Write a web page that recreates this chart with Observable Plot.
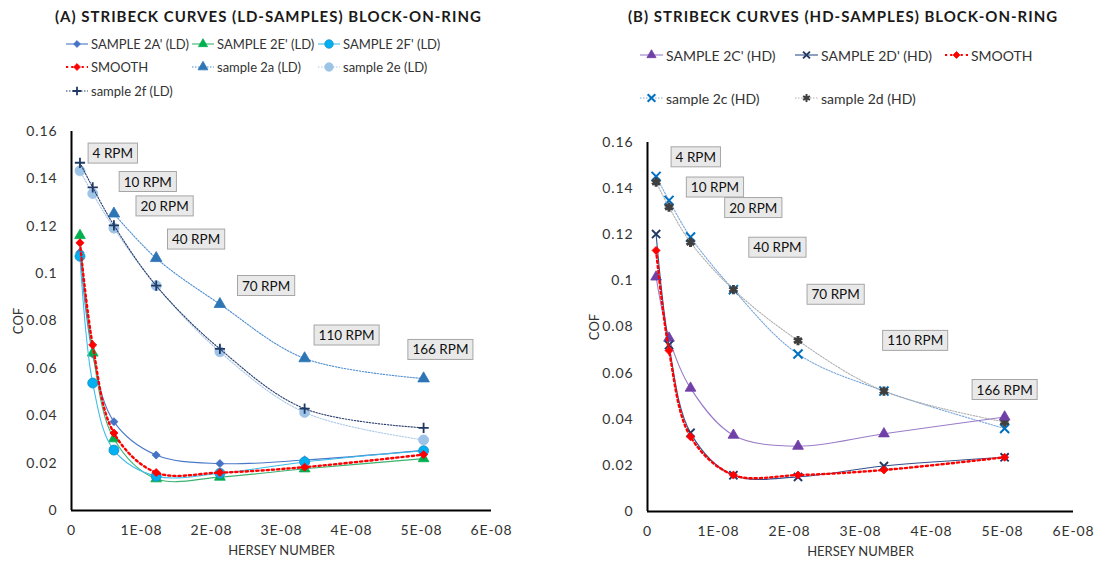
<!DOCTYPE html>
<html>
<head>
<meta charset="utf-8">
<script src="https://cdn.jsdelivr.net/npm/d3@7"></script>
<script src="https://cdn.jsdelivr.net/npm/@observablehq/plot@0.6"></script>
<style>
  html, body { margin: 0; padding: 0; background: #fff; }
  #root { position: relative; width: 1097px; height: 568px; font-family: Lato, "Open Sans", sans-serif; color: #222; overflow: hidden; }
  .title { position: absolute; font-weight: 700; font-size: 15px; letter-spacing: 1px; white-space: nowrap; color: #1a1a1a; }
  .legend { position: absolute; display: grid; font-size: 13px; color: #333; }
  .legendB { font-size: 14px; }
  .item { display: flex; align-items: center; white-space: nowrap; }
  .item svg { margin-right: 3px; flex: none; }
  .plot { position: absolute; }
  .plot g[aria-label$="tick label"] { font-size: 14px; letter-spacing: 0.9px; }
</style>
</head>
<body>
<div id="root"></div>
<script>
// ---------- DATA ----------
const rpm = [4, 10, 20, 40, 70, 110, 166];
const hersey = [1.21e-9, 3.03e-9, 6.06e-9, 1.21e-8, 2.12e-8, 3.33e-8, 5.03e-8];

// (A) LD samples
const sample2A_LD = [0.109, 0.066, 0.0375, 0.0234, 0.0198, 0.0213, 0.0254];
const sample2E_LD = [0.1161, 0.0665, 0.0303, 0.0134, 0.0141, 0.0176, 0.0219];
const sample2F_LD = [0.1073, 0.0538, 0.0255, 0.0145, 0.0157, 0.0205, 0.0252];
const smooth_LD   = [0.113, 0.0699, 0.0327, 0.016, 0.016, 0.0183, 0.0236];
const s2a_LD = [null, null, 0.1253, 0.1065, 0.0871, 0.0642, 0.0557];
const s2e_LD = [0.1434, 0.1338, 0.1192, 0.0949, 0.067, 0.0414, 0.0298];
const s2f_LD = [0.1468, 0.1364, 0.1204, 0.0949, 0.0682, 0.043, 0.0349];

// (B) HD samples
const sample2C_HD = [0.1017, 0.0752, 0.0535, 0.0331, 0.0283, 0.0337, 0.041];
const sample2D_HD = [0.1203, 0.0722, 0.0341, 0.0157, 0.015, 0.0197, 0.0235];
const smooth_HD   = [0.1132, 0.0698, 0.0324, 0.0158, 0.0158, 0.018, 0.0235];
const s2c_HD = [0.1453, 0.1349, 0.119, 0.0962, 0.0683, 0.0522, 0.036];
const s2d_HD = [0.1428, 0.132, 0.1167, 0.0962, 0.0741, 0.0522, 0.0388];

// tick values
const xTicks = [0, 1e-8, 2e-8, 3e-8, 4e-8, 5e-8, 6e-8];
const yTicks = [0, 0.02, 0.04, 0.06, 0.08, 0.1, 0.12, 0.14, 0.16];

// RPM annotation anchors (data units)
const rpmLabels = ["4 RPM", "10 RPM", "20 RPM", "40 RPM", "70 RPM", "110 RPM", "166 RPM"];
const annoA_x = [0.59e-8, 1.09e-8, 1.33e-8, 1.78e-8, 2.78e-8, 3.93e-8, 5.27e-8];
const annoA_y = [0.1506, 0.1386, 0.1283, 0.1143, 0.0947, 0.0738, 0.0677];
const annoB_x = [0.68e-8, 0.95e-8, 1.49e-8, 1.83e-8, 2.65e-8, 3.77e-8, 5.03e-8];
const annoB_y = [0.1535, 0.1404, 0.1315, 0.1143, 0.0939, 0.0739, 0.0526];

// ---------- STYLES ----------
const seriesA = [
  {name: "SAMPLE 2A' (LD)", values: sample2A_LD, line: "#4a78c8", lw: 1.1, dash: null, symbol: "square", rotate: 45, r: 3.2, fill: "#4472C4", stroke: "#4472C4", sw: 0.8},
  {name: "SAMPLE 2E' (LD)", values: sample2E_LD, line: "#3cb371", lw: 1.1, dash: null, symbol: "triangle", rotate: 0, r: 4, fill: "#00B050", stroke: "#00B050", sw: 0.8},
  {name: "SAMPLE 2F' (LD)", values: sample2F_LD, line: "#3dbdec", lw: 1.1, dash: null, symbol: "circle", rotate: 0, r: 5, fill: "#00B0F0", stroke: "#1b8fc4", sw: 0.8},
  {name: "SMOOTH", values: smooth_LD, line: "#FF0000", lw: 2.4, dash: "2.2,3", symbol: "square", rotate: 45, r: 3.2, fill: "#FF0000", stroke: "#FF0000", sw: 0.8},
  {name: "sample 2a (LD)", values: s2a_LD, line: "#4f8fd0", lw: 1.1, dash: "1.5,1.5", symbol: "triangle", rotate: 0, r: 4.3, fill: "#2E75B6", stroke: "#2E75B6", sw: 0.8},
  {name: "sample 2e (LD)", values: s2e_LD, line: "#a9c8e8", lw: 1.1, dash: "1.5,1.5", symbol: "circle", rotate: 0, r: 5, fill: "#9DC3E6", stroke: "#9DC3E6", sw: 0.8},
  {name: "sample 2f (LD)", values: s2f_LD, line: "#2a3f6e", lw: 1.1, dash: "1.5,1.5", symbol: "plus", rotate: 0, r: 3.4, fill: "none", stroke: "#1F3864", sw: 1.8}
];
const drawOrderA = [4, 5, 6, 0, 1, 2, 3];

const seriesB = [
  {name: "SAMPLE 2C' (HD)", values: sample2C_HD, line: "#9a7cc8", lw: 1.1, dash: null, symbol: "triangle", rotate: 0, r: 4, fill: "#7040A8", stroke: "#7040A8", sw: 0.8},
  {name: "SAMPLE 2D' (HD)", values: sample2D_HD, line: "#34508c", lw: 1.1, dash: null, symbol: "times", rotate: 0, r: 3.8, fill: "none", stroke: "#203864", sw: 1.9},
  {name: "SMOOTH", values: smooth_HD, line: "#FF0000", lw: 2.4, dash: "2.2,3", symbol: "square", rotate: 45, r: 3.2, fill: "#FF0000", stroke: "#FF0000", sw: 0.8},
  {name: "sample 2c  (HD)", values: s2c_HD, line: "#7aa7dc", lw: 1.1, dash: "1.5,1.5", symbol: "times", rotate: 0, r: 4.2, fill: "none", stroke: "#0070C0", sw: 2},
  {name: "sample 2d (HD)", values: s2d_HD, line: "#b0b0b0", lw: 1.1, dash: "1.5,1.5", symbol: "asterisk", rotate: 0, r: 4.4, fill: "none", stroke: "#3f3f3f", sw: 3}
];
const drawOrderB = [3, 4, 0, 1, 2];

// ---------- HELPERS ----------
const fmtX = d => d === 0 ? "0" : `${Math.round(d * 1e8)}E-08`;
const fmtY = d => String(+d.toFixed(2));

function seriesMarks(s) {
  const data = hersey.map((x, i) => ({x, y: s.values[i]})).filter(d => d.y != null);
  return [
    Plot.line(data, {x: "x", y: "y", curve: "catmull-rom", stroke: s.line, strokeWidth: s.lw, strokeDasharray: s.dash}),
    Plot.dot(data, {x: "x", y: "y", symbol: s.symbol, rotate: s.rotate, r: s.r, fill: s.fill, stroke: s.stroke, strokeWidth: s.sw})
  ];
}

function makeChart(series, order, annoX, annoY, dims) {
  const anno = rpmLabels.map((t, i) => ({t, x: annoX[i], y: annoY[i]}));
  return Plot.plot({
    width: dims.width, height: dims.height,
    marginLeft: dims.ml, marginRight: dims.mr, marginTop: dims.mt, marginBottom: dims.mb,
    x: {domain: [0, 6e-8]},
    y: {domain: [0, 0.16]},
    style: {fontFamily: "Lato, 'Open Sans', sans-serif", fontSize: "13px", color: "#333", background: "transparent", overflow: "visible"},
    marks: [
      Plot.axisX({ticks: xTicks, tickFormat: fmtX, tickSize: 0, tickPadding: 15, label: "HERSEY NUMBER", labelAnchor: "center", labelOffset: 44, labelArrow: false}),
      Plot.axisY({ticks: yTicks, tickFormat: fmtY, tickSize: 0, tickPadding: 14, label: "COF", labelAnchor: "center", labelOffset: dims.lo, labelArrow: false}),
      ...order.flatMap(i => seriesMarks(series[i])),
      Plot.ruleX([0], {stroke: "#000", strokeWidth: 2}),
      Plot.ruleY([0], {stroke: "#000", strokeWidth: 2}),
      Plot.text(anno, {x: "x", y: "y", text: "t", fontSize: 13.5, fill: "#111"})
    ]
  });
}

function boxLabels(svg) {
  const ns = "http://www.w3.org/2000/svg";
  svg.querySelectorAll('g[aria-label="text"] text').forEach(t => {
    const b = t.getBBox();
    const r = document.createElementNS(ns, "rect");
    r.setAttribute("x", b.x - 4.5);
    r.setAttribute("y", b.y - 2);
    r.setAttribute("width", b.width + 9);
    r.setAttribute("height", b.height + 4);
    r.setAttribute("fill", "#e9e9e9");
    r.setAttribute("stroke", "#a6a6a6");
    r.setAttribute("stroke-width", "1");
    if (t.getAttribute("transform")) r.setAttribute("transform", t.getAttribute("transform"));
    t.parentNode.insertBefore(r, t);
  });
}

const symbolMap = {circle: d3.symbolCircle, triangle: d3.symbolTriangle, square: d3.symbolSquare, plus: d3.symbolPlus, times: d3.symbolTimes, asterisk: d3.symbolAsterisk};

function swatch(s, w) {
  const rr = s.r * 0.85;
  const path = d3.symbol().type(symbolMap[s.symbol]).size(Math.PI * rr * rr)();
  return `<svg width="${w}" height="12"><line x1="0" x2="${w}" y1="6" y2="6" stroke="${s.line}" stroke-width="${Math.min(s.lw, 2)}" ${s.dash ? `stroke-dasharray="${s.dash}"` : ""}/>` +
    `<path d="${path}" transform="translate(${w / 2},6) rotate(${s.rotate})" fill="${s.fill}" stroke="${s.stroke}" stroke-width="${Math.min(s.sw, 2)}"/></svg>`;
}

function legend(series, cls, style, w) {
  const div = document.createElement("div");
  div.className = "legend " + cls;
  Object.assign(div.style, style);
  series.forEach(s => {
    const it = document.createElement("div");
    it.className = "item";
    it.innerHTML = swatch(s, w) + `<span>${s.name}</span>`;
    div.appendChild(it);
  });
  return div;
}

// ---------- BUILD ----------
const root = document.getElementById("root");

const tA = document.createElement("div");
tA.className = "title"; tA.textContent = "(A) STRIBECK CURVES (LD-SAMPLES) BLOCK-ON-RING";
Object.assign(tA.style, {left: "55px", top: "7px"});
root.appendChild(tA);

const tB = document.createElement("div");
tB.className = "title"; tB.textContent = "(B) STRIBECK CURVES (HD-SAMPLES) BLOCK-ON-RING";
Object.assign(tB.style, {left: "628px", top: "7px"});
root.appendChild(tB);

root.appendChild(legend(seriesA, "legendA", {left: "66px", top: "32px", gridTemplateColumns: "126px 126px auto", gridAutoRows: "23.5px"}, 22));
root.appendChild(legend(seriesB, "legendB", {left: "640px", top: "33.5px", gridTemplateColumns: "155px 150px auto", gridAutoRows: "43px"}, 23));

const chartA = makeChart(seriesA, drawOrderA, annoA_x, annoA_y, {width: 540, height: 448, ml: 71, mr: 49, mt: 11, mb: 58, lo: 58});
chartA.classList.add("plot");
Object.assign(chartA.style, {left: "0px", top: "120px"});
root.appendChild(chartA);
boxLabels(chartA);

const chartB = makeChart(seriesB, drawOrderB, annoB_x, annoB_y, {width: 547, height: 448, ml: 97, mr: 24, mt: 22, mb: 57, lo: 58});
chartB.classList.add("plot");
Object.assign(chartB.style, {left: "550px", top: "120px"});
root.appendChild(chartB);
boxLabels(chartB);
</script>
</body>
</html>
